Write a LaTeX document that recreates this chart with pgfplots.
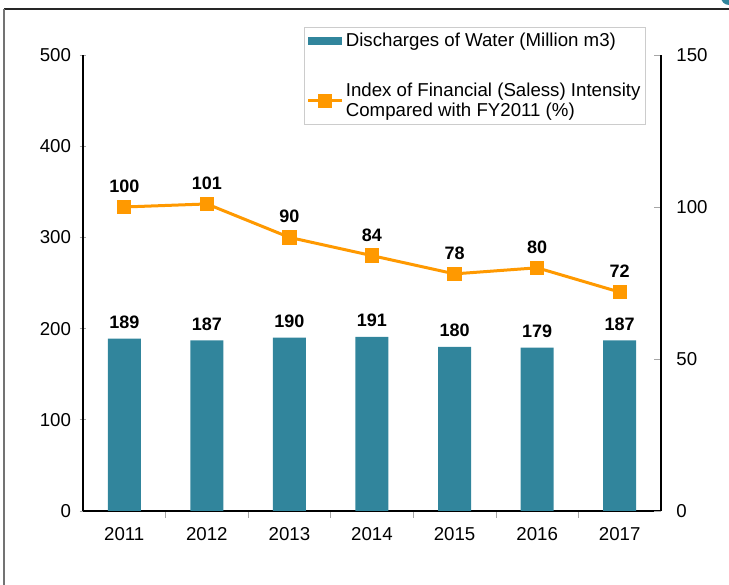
\documentclass[border=0pt]{standalone}
\usepackage{fontspec}
\setmainfont{Liberation Sans}
\usepackage{pgfplots}
\pgfplotsset{compat=1.18}
\definecolor{barc}{HTML}{31859C}
\definecolor{linec}{HTML}{FF9900}
\pgfplotsset{/pgf/number format/assume math mode=true,
  mylegline/.style={legend image code/.code={\draw[mark repeat=2,mark phase=2,##1] plot coordinates {(0pt,0pt) (12.5pt,0pt) (25pt,0pt)};}},
  mylegbar/.style={legend image code/.code={\fill[barc] (0pt,-2.6pt) rectangle (25pt,2.6pt);}}}
\begin{document}
\begin{tikzpicture}[x=0.75pt,y=0.75pt]
\path[use as bounding box] (0,0) rectangle (729,585);
\begin{scope}
\clip (0,0) rectangle (729,585);
\fill[barc] (729,588) circle (8);
\fill[white] (731,589) circle (4);
\end{scope}
\draw[black!85, line width=1.5pt] (4,576) -- (729,576);
\draw[black!55, line width=1.5pt] (4,576) -- (4,0);
\begin{axis}[
  at={(62.25pt,55.5pt)}, anchor=south west, scale only axis,
  width=433.5pt, height=342pt,
  xmin=-0.5, xmax=6.5, ymin=0, ymax=500,
  axis x line*=bottom, axis y line*=left,
  axis line style={-, black, line width=0.9pt},
  xtick={0,...,6}, xticklabels={2011,2012,2013,2014,2015,2016,2017},
  major x tick style={draw=none},
  minor xtick={0.5,1.5,...,5.5}, minor x tick style={gray!70, line width=0.5pt},
  minor tick length=5pt,
  ytick={0,100,...,500}, y tick style={gray!70, line width=0.5pt}, ytick align=center,
  major tick length=5pt,
  tick label style={font=\fontsize{14}{16}\selectfont, black},
  yticklabel style={xshift=-3pt},
  xticklabel style={yshift=-4pt},
  ybar, bar width=24.75pt,
  nodes near coords,
  nodes near coords style={font=\fontsize{13.5}{15}\selectfont\bfseries, black, yshift=4pt},
]
\addplot[fill=barc, draw=none] coordinates {(0,189) (1,187) (2,190) (3,191) (4,180) (5,179) (6,187)};
\end{axis}
\begin{axis}[
  at={(62.25pt,55.5pt)}, anchor=south west, scale only axis,
  width=433.5pt, height=342pt,
  xmin=-0.5, xmax=6.5, ymin=0, ymax=150,
  axis y line*=right, axis x line=none,
  axis line style={-, black, line width=0.9pt},
  ytick={0,50,100,150}, y tick style={gray!70, line width=0.5pt},
  major tick length=5pt,
  tick label style={font=\fontsize{14}{16}\selectfont, black},
  yticklabel style={xshift=8pt},
  nodes near coords,
  nodes near coords style={font=\fontsize{13.5}{15}\selectfont\bfseries, black, yshift=7.5pt},
  legend style={at={(0.382,1.061)}, anchor=north west, draw=gray!40, line width=0.6pt,
    font=\fontsize{14}{15}\selectfont, cells={anchor=west, align=left},
    row sep=22pt, inner xsep=2pt, inner ysep=2pt},
]
\addlegendimage{mylegbar}
\addlegendentry{Discharges of Water (Million m3)}
\addplot[linec, line width=2.25pt, mark=square*, mark size=5pt,
  mark options={fill=linec, draw=linec, line width=0pt}, mylegline]
  coordinates {(0,100) (1,101) (2,90) (3,84) (4,78) (5,80) (6,72)};
\addlegendentry{Index of Financial (Saless) Intensity\\Compared with FY2011 (\%)}
\end{axis}
\end{tikzpicture}
\end{document}
